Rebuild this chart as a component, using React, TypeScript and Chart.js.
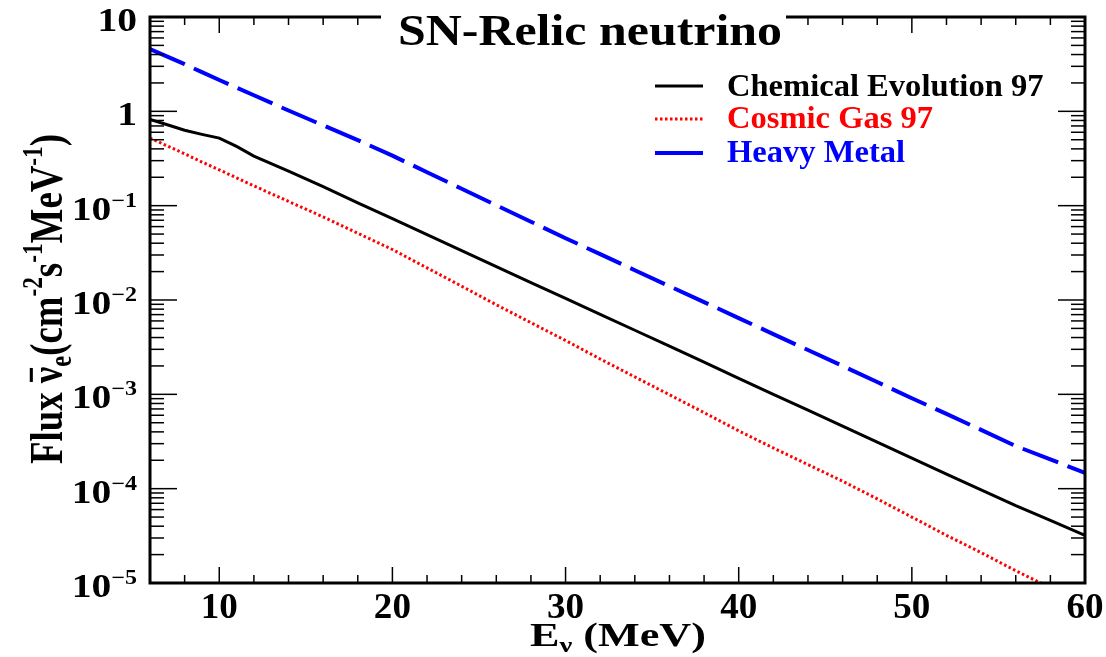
import React, { useEffect, useRef } from "react";
import { Chart, registerables } from "chart.js";

Chart.register(...registerables);

// ---------------- data ----------------
const energies = [6, 7, 8, 9, 10, 11, 12, 14, 16, 18, 20, 22, 24, 26, 28, 30, 32, 34, 36, 38, 40, 42, 44, 46, 48, 50, 52, 54, 56, 58, 60];

const chemicalEvolution97 = [
  0.82, 0.72, 0.63, 0.57, 0.52, 0.425, 0.335, 0.232, 0.159, 0.107, 0.0728, 0.0493, 0.0334, 0.0226, 0.0153,
  0.0104, 0.00705, 0.00478, 0.00324, 0.00219, 0.00148, 0.001, 6.8e-4, 4.6e-4, 3.12e-4, 2.11e-4, 1.43e-4,
  9.7e-5, 6.6e-5, 4.6e-5, 3.2e-5,
];

const cosmicGas97 = [
  0.52, 0.43, 0.355, 0.29, 0.24, 0.197, 0.162, 0.111, 0.076, 0.051, 0.0343, 0.0219, 0.014, 0.0089, 0.00575,
  0.00372, 0.00237, 0.00153, 9.9e-4, 6.4e-4, 4.1e-4, 2.7e-4, 1.8e-4, 1.2e-4, 7.8e-5, 5.0e-5, 3.2e-5,
  2.1e-5, 1.35e-5, 8.9e-6, 5.8e-6,
];

const heavyMetal = [
  4.58, 3.8, 3.16, 2.6, 2.15, 1.78, 1.48, 1.02, 0.71, 0.495, 0.339, 0.226, 0.151, 0.101, 0.0676,
  0.0452, 0.0306, 0.0207, 0.014, 0.0095, 0.00643, 0.00435, 0.00295, 0.002, 0.00135, 9.1e-4, 6.2e-4,
  4.2e-4, 2.83e-4, 2.04e-4, 1.47e-4,
];

const seriesNames = ["Chemical Evolution 97", "Cosmic Gas 97", "Heavy Metal"];
const seriesColors = ["#000000", "#ff0000", "#0000ff"];

const xMajorTicks = [10, 20, 30, 40, 50, 60];
const xMinorTicks = [8, 12, 14, 16, 18, 22, 24, 26, 28, 32, 34, 36, 38, 42, 44, 46, 48, 52, 54, 56, 58];
const yDecadeExponents = [1, 0, -1, -2, -3, -4, -5];

const chartTitle = "SN-Relic neutrino";

// ---------------- text helpers ----------------
const FAM = '"Liberation Serif", "Times New Roman", serif';

type Part = { t: string; size: number; dy?: number; overline?: boolean };

function fontOf(size: number) {
  return `bold ${size}px ${FAM}`;
}

function partsWidth(ctx: CanvasRenderingContext2D, parts: Part[]) {
  let w = 0;
  for (const p of parts) {
    ctx.font = fontOf(p.size);
    w += ctx.measureText(p.t).width;
  }
  return w;
}

function drawParts(
  ctx: CanvasRenderingContext2D,
  parts: Part[],
  x: number,
  y: number,
  align: "left" | "center" | "right",
  color: string,
  sx: number,
  sy = 1,
  targetWidth?: number
) {
  const w = partsWidth(ctx, parts);
  const scx = targetWidth ? targetWidth / w : sx;
  ctx.save();
  ctx.translate(x, y);
  ctx.scale(scx, sy);
  let cx = align === "left" ? 0 : align === "center" ? -w / 2 : -w;
  ctx.textAlign = "left";
  ctx.textBaseline = "alphabetic";
  ctx.fillStyle = color;
  ctx.strokeStyle = color;
  for (const p of parts) {
    ctx.font = fontOf(p.size);
    const pw = ctx.measureText(p.t).width;
    ctx.fillText(p.t, cx, p.dy || 0);
    if (p.overline) {
      ctx.lineWidth = 2;
      ctx.beginPath();
      ctx.moveTo(cx + 1, -0.66 * p.size);
      ctx.lineTo(cx + pw - 1, -0.66 * p.size);
      ctx.stroke();
    }
    cx += pw;
  }
  ctx.restore();
}

function line(ctx: CanvasRenderingContext2D, x1: number, y1: number, x2: number, y2: number) {
  ctx.beginPath();
  ctx.moveTo(x1, y1);
  ctx.lineTo(x2, y2);
  ctx.stroke();
}

const decorPlugin = {
  id: "decor",
  afterDraw(chart: any) {
    const ctx: CanvasRenderingContext2D = chart.ctx;
    const { left, right, top, bottom } = chart.chartArea;
    const xs = chart.scales.x;
    const ys = chart.scales.y;
    ctx.save();

    // ticks (inside, mirrored)
    ctx.strokeStyle = "#000";
    ctx.lineWidth = 1.5;
    ctx.setLineDash([]);
    for (const v of xMajorTicks) {
      const px = xs.getPixelForValue(v);
      line(ctx, px, bottom, px, bottom - 16);
      line(ctx, px, top, px, top + 16);
    }
    for (const v of xMinorTicks) {
      const px = xs.getPixelForValue(v);
      line(ctx, px, bottom, px, bottom - 8);
      line(ctx, px, top, px, top + 8);
    }
    for (const e of yDecadeExponents) {
      const py = ys.getPixelForValue(Math.pow(10, e));
      line(ctx, left, py, left + 27, py);
      line(ctx, right, py, right - 27, py);
      if (e < 1) {
        for (let m = 2; m <= 9; m++) {
          const pm = ys.getPixelForValue(m * Math.pow(10, e));
          line(ctx, left, pm, left + 14, pm);
          line(ctx, right, pm, right - 14, pm);
        }
      }
    }

    // frame
    ctx.lineWidth = 3;
    ctx.strokeRect(left, top, right - left, bottom - top);

    // y tick labels
    for (const e of yDecadeExponents) {
      const py = ys.getPixelForValue(Math.pow(10, e));
      let parts: Part[];
      if (e === 1) parts = [{ t: "10", size: 33 }];
      else if (e === 0) parts = [{ t: "1", size: 33 }];
      else parts = [{ t: "10", size: 33 }, { t: "\u2212" + String(-e), size: 20, dy: -13 }];
      drawParts(ctx, parts, left - 13, py + 14, "right", "#000", 1.2);
    }

    // x tick labels
    for (const v of xMajorTicks) {
      const px = xs.getPixelForValue(v);
      drawParts(ctx, [{ t: String(v), size: 36 }], px, bottom + 35, "center", "#000", 1.03);
    }

    // x axis title
    drawParts(
      ctx,
      [{ t: "E", size: 34 }, { t: "\u03bd", size: 22, dy: 6 }, { t: " (MeV)", size: 34 }],
      618,
      646,
      "center",
      "#000",
      1,
      1,
      176
    );

    // y axis title (rotated)
    ctx.save();
    ctx.translate(62, 299);
    ctx.rotate(-Math.PI / 2);
    drawParts(
      ctx,
      [
        { t: "Flux ", size: 30 },
        { t: "\u03bd", size: 30, overline: true },
        { t: "e", size: 20, dy: 6 },
        { t: "(cm", size: 30 },
        { t: "-2", size: 19, dy: -13 },
        { t: "s", size: 30 },
        { t: "-1", size: 19, dy: -13 },
        { t: "MeV", size: 30 },
        { t: "-1", size: 19, dy: -13 },
        { t: ")", size: 30 },
      ],
      0,
      0,
      "center",
      "#000",
      1,
      1.55,
      330
    );
    ctx.restore();

    // legend
    const legendY = [86, 119, 153];
    const legendBase = [96, 128, 162];
    for (let i = 0; i < 3; i++) {
      ctx.strokeStyle = seriesColors[i];
      ctx.lineWidth = i === 2 ? 4 : 3;
      ctx.setLineDash(i === 1 ? [2.5, 2.5] : []);
      line(ctx, 655, legendY[i], 703, legendY[i]);
      ctx.setLineDash([]);
      drawParts(ctx, [{ t: seriesNames[i], size: 31 }], 727, legendBase[i], "left", seriesColors[i], 1.05);
    }

    // title with white box over the top frame
    ctx.fillStyle = "#ffffff";
    ctx.fillRect(381, 0, 405, 52);
    drawParts(ctx, [{ t: chartTitle, size: 45 }], 398, 45, "left", "#000", 1, 1, 384);

    ctx.restore();
  },
};

export default function App() {
  const canvasRef = useRef<HTMLCanvasElement | null>(null);

  useEffect(() => {
    const canvas = canvasRef.current;
    if (!canvas) return;
    const allSeries = [chemicalEvolution97, cosmicGas97, heavyMetal];
    const chart = new Chart(canvas, {
      type: "line",
      data: {
        datasets: allSeries.map((vals, i) => ({
          label: seriesNames[i],
          data: energies.map((e, j) => ({ x: e, y: vals[j] })),
          borderColor: seriesColors[i],
          backgroundColor: seriesColors[i],
          borderWidth: i === 2 ? 4 : 3,
          borderDash: i === 1 ? [2.5, 2.5] : i === 2 ? [38, 10] : [],
          pointRadius: 0,
          tension: 0,
          fill: false,
        })),
      },
      options: {
        responsive: false,
        maintainAspectRatio: false,
        animation: false,
        layout: { padding: { left: 0, right: 21, top: 17, bottom: 0 } },
        plugins: {
          legend: { display: false },
          title: { display: false },
          tooltip: { enabled: false },
        },
        scales: {
          x: {
            type: "linear",
            min: 6,
            max: 60,
            ticks: { display: false },
            grid: { display: false, drawTicks: false },
            border: { display: false },
            afterFit: (s: any) => {
              s.height = 74;
            },
          },
          y: {
            type: "logarithmic",
            min: 1e-5,
            max: 10,
            ticks: { display: false },
            grid: { display: false, drawTicks: false },
            border: { display: false },
            afterFit: (s: any) => {
              s.width = 150;
            },
          },
        },
      } as any,
      plugins: [decorPlugin],
    });
    return () => chart.destroy();
  }, []);

  return (
    <div style={{ position: "fixed", left: 0, top: 0, width: 1106, height: 657, background: "#fff" }}>
      <canvas ref={canvasRef} width={1106} height={657} style={{ display: "block" }} />
    </div>
  );
}
